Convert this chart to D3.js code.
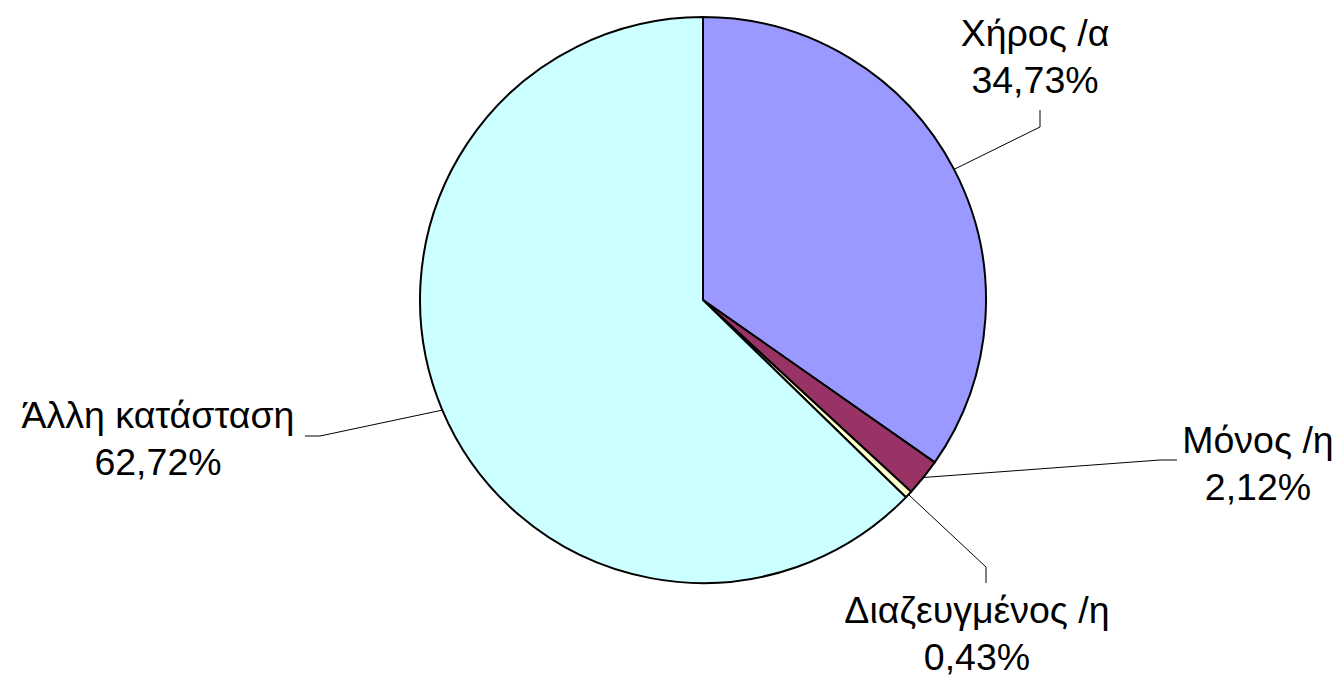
<!DOCTYPE html>
<html>
<head>
<meta charset="utf-8">
<script src="https://cdn.jsdelivr.net/npm/d3@7"></script>
<style>
  body { margin: 0; background: #fff; }
  text { font-family: "Liberation Sans", Arial, sans-serif; fill: #000; }
</style>
</head>
<body>
<div class="visContainer"></div>
<script>
const categories = ['Χήρος /α', 'Μόνος /η', 'Διαζευγμένος /η', 'Άλλη κατάσταση'];
const values = [34.73, 2.12, 0.43, 62.72];
const valueLabels = ['34,73%', '2,12%', '0,43%', '62,72%'];
const colors = ['#9999ff', '#993366', '#ffffcc', '#ccffff'];

// hand placed label spots: text centre, elbow of leader, end of leader
const labelLayout = [
  { x: 1035, y: 46, elbow: [1040, 127], end: [1040, 110] },
  { x: 1258, y: 453, elbow: [1160, 460], end: [1177, 460] },
  { x: 977, y: 623, elbow: [986, 567], end: [986, 583] },
  { x: 158, y: 428, elbow: [320, 436], end: [305, 436] }
];

const width = 1342;
const height = 680;
const cx = 703, cy = 300, radius = 283;

const dataset = categories.map((c, i) => ({ name: c, value: values[i], label: valueLabels[i], color: colors[i], pos: labelLayout[i] }));

const svg = d3.select('.visContainer')
              .append('svg')
              .attr('width', width)
              .attr('height', height);

const g = svg.append('g').attr('transform', `translate(${cx},${cy})`);

const pie = d3.pie().sort(null).value((d) => d.value);
const arc = d3.arc().innerRadius(0).outerRadius(radius);
const arcs = pie(dataset);

g.selectAll('path.slice')
 .data(arcs)
 .enter()
 .append('path')
 .attr('class', 'slice')
 .attr('d', arc)
 .attr('fill', (d) => d.data.color)
 .attr('stroke', '#000')
 .attr('stroke-width', 2)
 .attr('stroke-linejoin', 'round');

// leader lines
svg.selectAll('polyline')
   .data(arcs)
   .enter()
   .append('polyline')
   .attr('points', (d) => {
       const a = (d.startAngle + d.endAngle) / 2;
       const sx = cx + radius * Math.sin(a);
       const sy = cy - radius * Math.cos(a);
       const p = d.data.pos;
       return [[sx, sy], p.elbow, p.end].map((q) => q.join(',')).join(' ');
   })
   .attr('fill', 'none')
   .attr('stroke', '#000')
   .attr('stroke-width', 1);

const labels = svg.selectAll('text.lbl')
   .data(arcs)
   .enter()
   .append('text')
   .attr('class', 'lbl')
   .attr('text-anchor', 'middle')
   .attr('font-size', 37.5)
   .attr('x', (d) => d.data.pos.x)
   .attr('y', (d) => d.data.pos.y);

labels.append('tspan')
      .attr('x', (d) => d.data.pos.x)
      .text((d) => d.data.name);
labels.append('tspan')
      .attr('x', (d) => d.data.pos.x)
      .attr('dy', 47)
      .text((d) => d.data.label);
</script>
</body>
</html>
